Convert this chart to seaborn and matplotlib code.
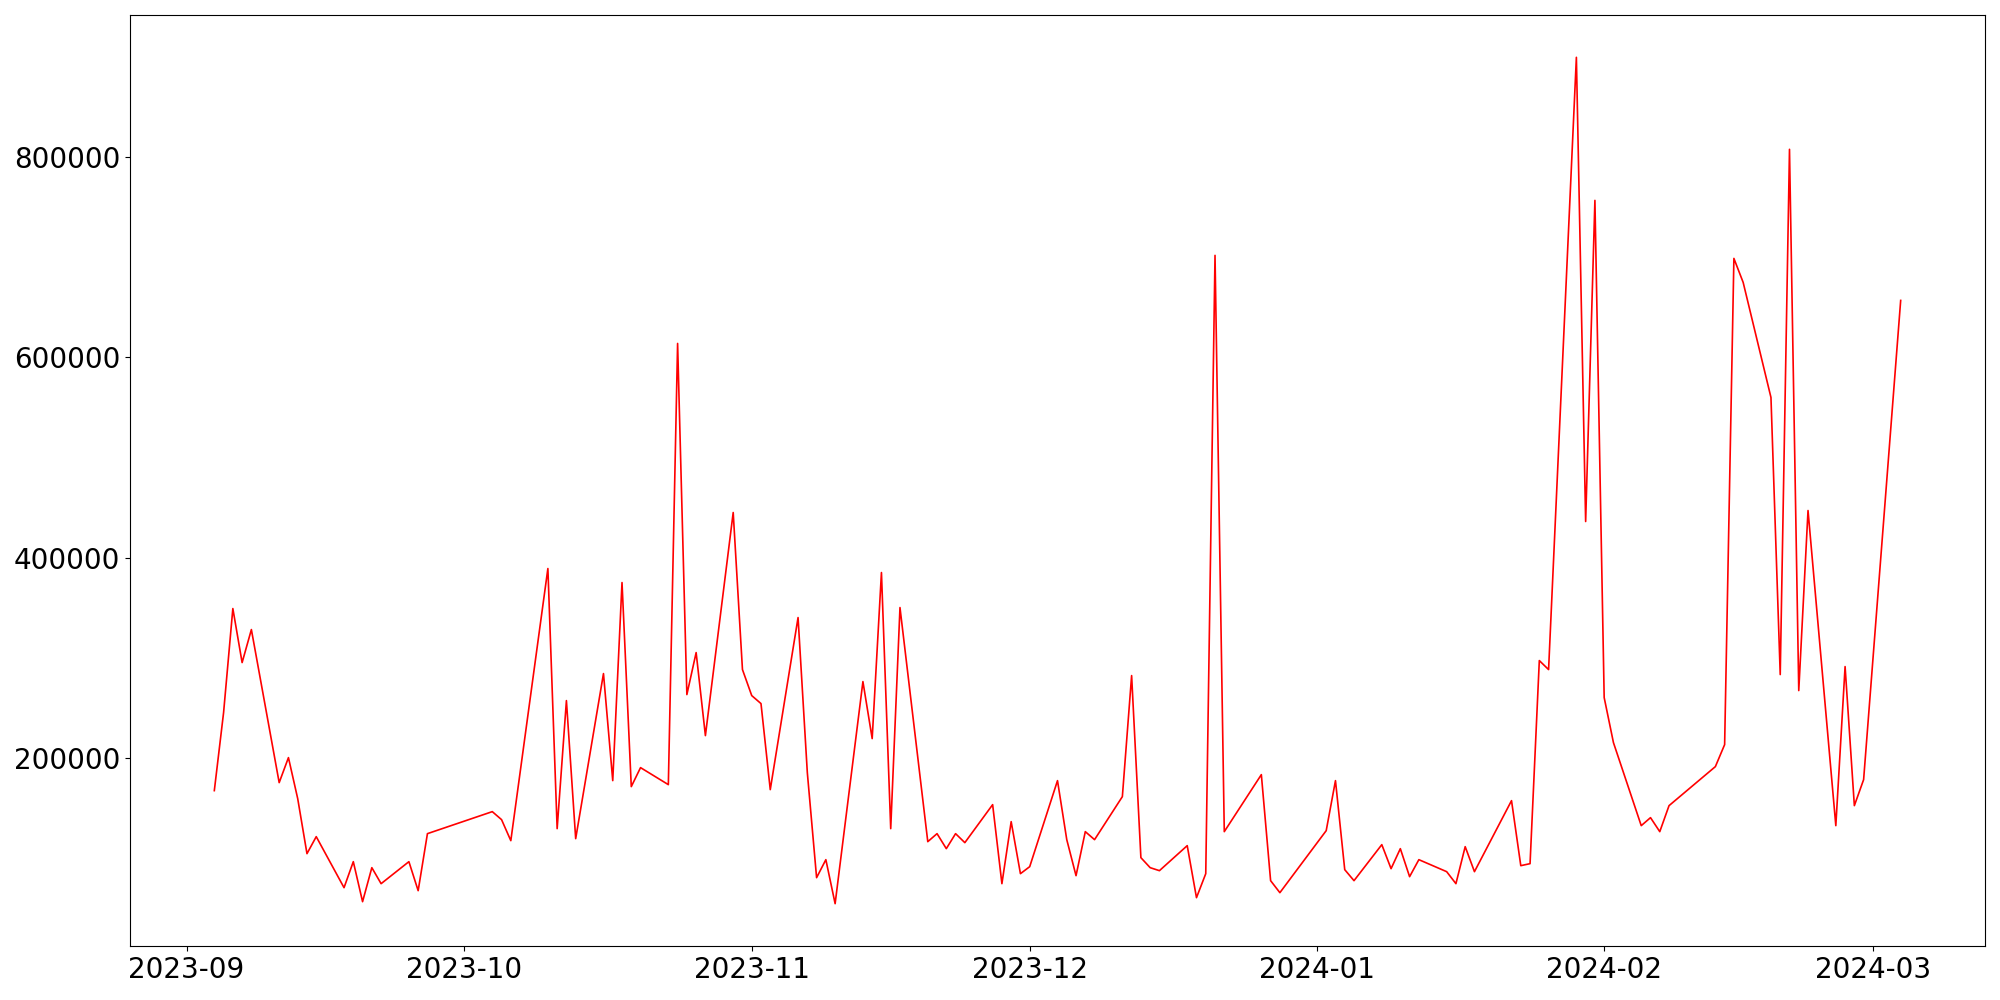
import matplotlib
matplotlib.use("Agg")
import matplotlib.pyplot as plt
import seaborn as sns
import pandas as pd

sep_days = [4, 5, 6, 7, 8, 11, 12, 13, 14, 15, 18, 19, 20, 21, 22, 25, 26, 27]
sep_vals = [167, 245, 349, 295, 328, 175, 200, 159, 104, 121, 70, 96, 56, 90, 74, 96, 67, 124]
oct_days = [4, 5, 6, 10, 11, 12, 13, 16, 17, 18, 19, 20, 23, 24, 25, 26, 27, 30, 31]
oct_vals = [146, 138, 117, 389, 129, 257, 119, 284, 177, 375, 171, 190, 173, 614, 263, 305, 222, 445, 288]
nov_days = [1, 2, 3, 6, 7, 8, 9, 10, 13, 14, 15, 16, 17, 20, 21, 22, 23, 24, 27, 28, 29, 30]
nov_vals = [262, 254, 168, 340, 185, 80, 98, 54, 276, 219, 385, 129, 350, 116, 124, 109, 124, 115, 153, 74, 136, 84]
dec_days = [1, 4, 5, 6, 7, 8, 11, 12, 13, 14, 15, 18, 19, 20, 21, 22, 26, 27, 28]
dec_vals = [91, 177, 118, 82, 126, 118, 161, 282, 100, 90, 87, 112, 60, 84, 702, 126, 183, 77, 65]
jan_days = [2, 3, 4, 5, 8, 9, 10, 11, 12, 15, 16, 17, 18, 22, 23, 24, 25, 26, 29, 30, 31]
jan_vals = [127, 177, 88, 77, 113, 89, 109, 81, 98, 86, 74, 111, 86, 157, 92, 94, 297, 288, 900, 436, 757]
feb_days = [1, 2, 5, 6, 7, 8, 13, 14, 15, 16, 19, 20, 21, 22, 23, 26, 27, 28, 29]
feb_vals = [260, 215, 132, 140, 126, 152, 191, 213, 699, 675, 560, 283, 808, 267, 447, 132, 291, 152, 178]
mar_days = [4]
mar_vals = [657]

months = [("2023-09", sep_days, sep_vals), ("2023-10", oct_days, oct_vals),
          ("2023-11", nov_days, nov_vals), ("2023-12", dec_days, dec_vals),
          ("2024-01", jan_days, jan_vals), ("2024-02", feb_days, feb_vals),
          ("2024-03", mar_days, mar_vals)]

dates, values = [], []
for ym, ds, vs in months:
    for d, v in zip(ds, vs):
        dates.append(pd.Timestamp(f"{ym}-{d:02d}"))
        values.append(v * 1000)

df = pd.DataFrame({"date": dates, "value": values})

fig = plt.figure(figsize=(20, 10), dpi=100)
ax = fig.add_axes([0.065, 0.054, 0.9275, 0.931])
sns.lineplot(data=df, x="date", y="value", color="red", linewidth=1.2, ax=ax)
ax.set_xlabel("")
ax.set_ylabel("")
ax.tick_params(axis="both", labelsize=20)
fig.savefig("out.png", dpi=100)
